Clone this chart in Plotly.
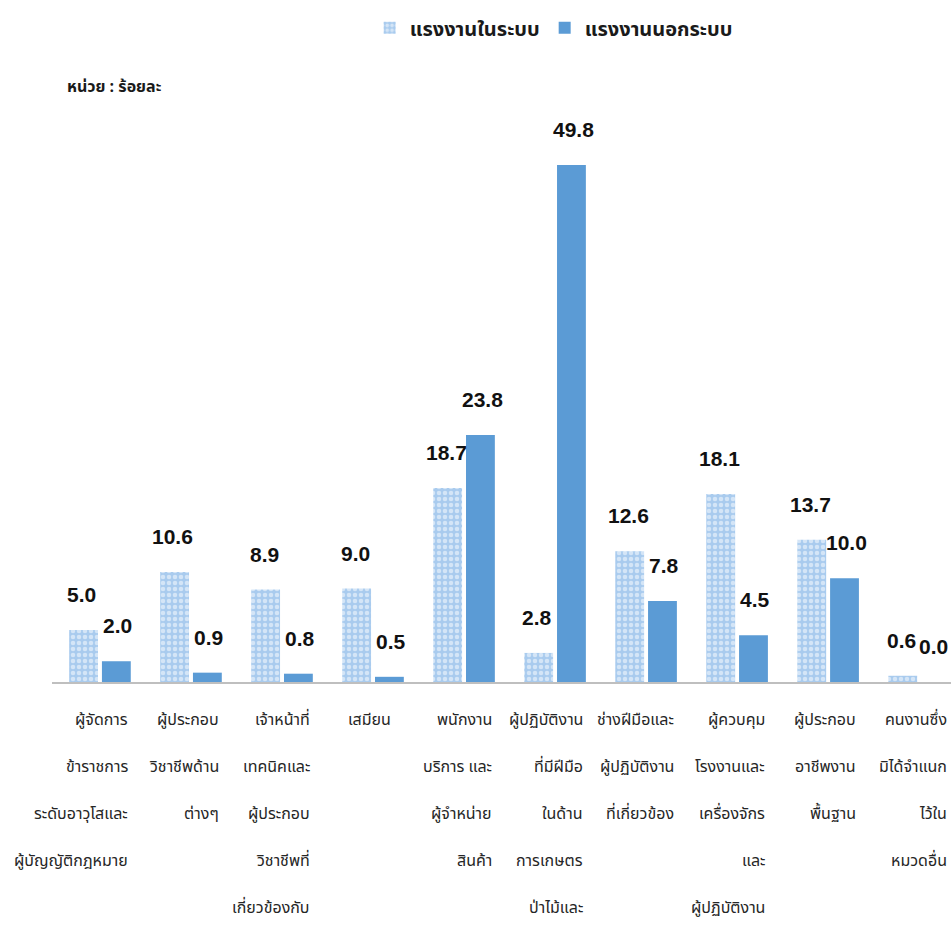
import plotly.graph_objects as go

# Data
categories = ["c1", "c2", "c3", "c4", "c5", "c6", "c7", "c8", "c9", "c10"]
label_lines = [
    ["ผู้จัดการ", "ข้าราชการ", "ระดับอาวุโสและ", "ผู้บัญญัติกฎหมาย"],
    ["ผู้ประกอบ", "วิชาชีพด้าน", "ต่างๆ"],
    ["เจ้าหน้าที่", "เทคนิคและ", "ผู้ประกอบ", "วิชาชีพที่", "เกี่ยวข้องกับ"],
    ["เสมียน"],
    ["พนักงาน", "บริการ และ", "ผู้จำหน่าย", "สินค้า"],
    ["ผู้ปฏิบัติงาน", "ที่มีฝีมือ", "ในด้าน", "การเกษตร", "ป่าไม้และ"],
    ["ช่างฝีมือและ", "ผู้ปฏิบัติงาน", "ที่เกี่ยวข้อง"],
    ["ผู้ควบคุม", "โรงงานและ", "เครื่องจักร", "และ", "ผู้ปฏิบัติงาน"],
    ["ผู้ประกอบ", "อาชีพงาน", "พื้นฐาน"],
    ["คนงานซึ่ง", "มิได้จำแนก", "ไว้ใน", "หมวดอื่น"],
]
formal = [5.0, 10.6, 8.9, 9.0, 18.7, 2.8, 12.6, 18.1, 13.7, 0.6]
informal = [2.0, 0.9, 0.8, 0.5, 23.8, 49.8, 7.8, 4.5, 10.0, 0.0]
series_names = ["แรงงานในระบบ", "แรงงานนอกระบบ"]
unit_text = "หน่วย : ร้อยละ"

THAI = "Tahoma, 'Noto Sans Thai', 'Noto Sans', 'DejaVu Sans', sans-serif"
NUM = "'Liberation Sans Narrow', 'Arial Narrow', 'Liberation Sans', sans-serif"

fig = go.Figure()

fig.add_trace(go.Bar(
    x=categories, y=formal, name=series_names[0],
    marker=dict(color="#b7d4f0", line=dict(width=0),
                pattern=dict(shape=".", fgcolor="white", bgcolor="#a9cbee",
                             size=6, solidity=0.45)),
))
fig.add_trace(go.Bar(
    x=categories, y=informal, name=series_names[1],
    marker=dict(color="#5b9bd5", line=dict(width=0)),
))

annotations = []

# value labels above bars
for k, (vals, shift) in enumerate([(formal, -18), (informal, 18)]):
    for i, (c, v) in enumerate(zip(categories, vals)):
        xs = shift
        if k == 1 and i == len(categories) - 1:
            xs = 14  # keep last label inside the page
        annotations.append(dict(
            x=c, y=v, xref="x", yref="y", text=f"{v:.1f}",
            showarrow=False, xshift=xs, yshift=22, yanchor="bottom",
            font=dict(family=NUM, size=21, color="#111111", weight="bold"),
        ))

# category labels, one annotation per line, 47px apart
for i, (c, lines) in enumerate(zip(categories, label_lines)):
    left = (i == 3)
    for j, line in enumerate(lines):
        annotations.append(dict(
            x=c, y=0, xref="x", yref="y", yshift=-38 - 47 * j,
            text=line, showarrow=False,
            xshift=-27 if left else 30,
            xanchor="left" if left else "right", yanchor="middle",
            font=dict(family=THAI, size=16, color="#262626"),
        ))

annotations.append(dict(
    x=0.0145, y=1.022, xref="paper", yref="paper", text=f"<b>{unit_text}</b>",
    showarrow=False, xanchor="left", yanchor="middle",
    font=dict(family=THAI, size=16, color="#1a1a1a"),
))

fig.update_layout(
    width=951, height=927,
    margin=dict(l=52, r=0, t=100, b=245),
    paper_bgcolor="white", plot_bgcolor="white",
    barmode="group", bargap=0.28, bargroupgap=0.12,
    showlegend=True,
    legend=dict(orientation="h", x=0.558, xanchor="center", y=1.124, yanchor="middle",
                font=dict(family=THAI, size=20, color="#1a1a1a", weight="bold"),
                itemwidth=30, tracegroupgap=0),
    xaxis=dict(range=[-0.527, 9.35], showticklabels=False, ticks="",
               showline=True, linecolor="#bfbfbf", linewidth=2, showgrid=False),
    yaxis=dict(range=[0, 56.07], visible=False, showgrid=False),
    annotations=annotations,
)

# drop the default page margin so the figure fills the window exactly
fig.write_html("out.html", config={"displayModeBar": False},
               post_script="document.body.style.margin='0';document.body.style.overflow='hidden';")
